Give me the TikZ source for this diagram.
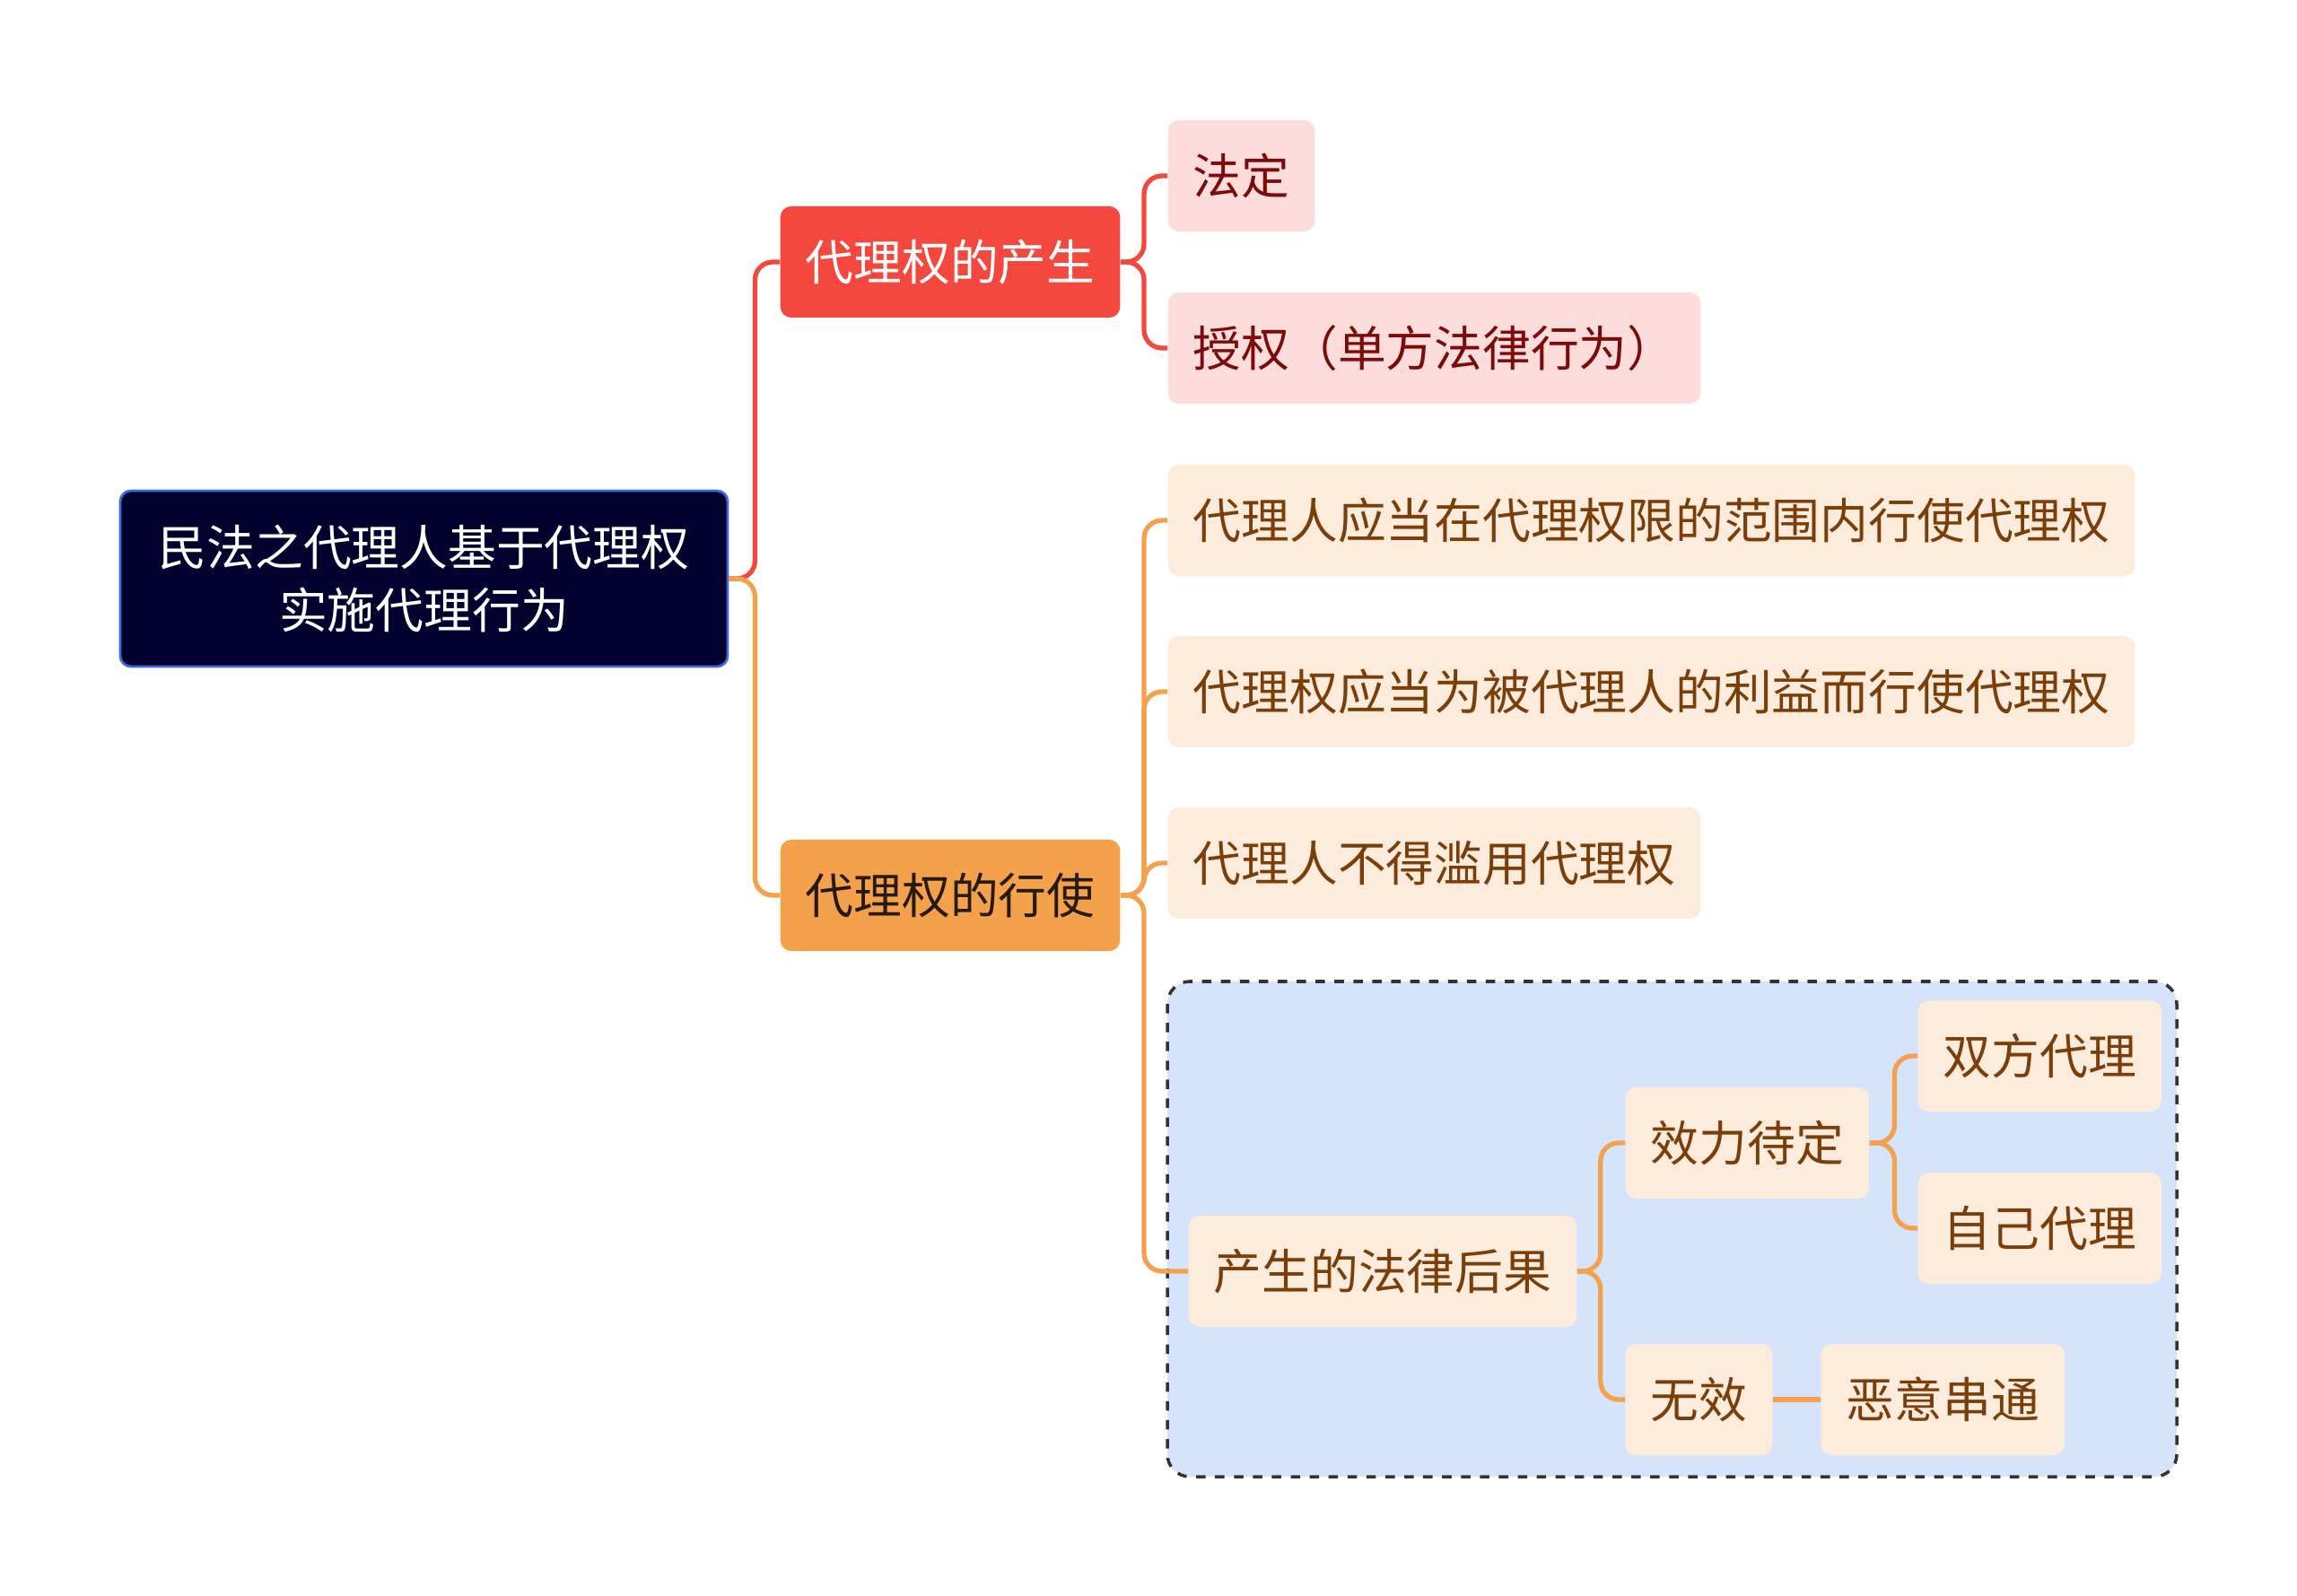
\documentclass[tikz,border=0pt]{standalone}
\usepackage{fontspec}
\setmainfont{Noto Sans CJK SC}
\usetikzlibrary{positioning}

\definecolor{rootfill}{HTML}{03022E}
\definecolor{rootline}{HTML}{3D6CD8}
\definecolor{redmain}{HTML}{F4473D}
\definecolor{redleaf}{HTML}{FDDCDC}
\definecolor{redtext}{HTML}{7B0B0B}
\definecolor{orgmain}{HTML}{F4A14C}
\definecolor{orgleaf}{HTML}{FDECDC}
\definecolor{orgtext}{HTML}{7A3E0A}
\definecolor{boxfill}{HTML}{D6E4FB}

\begin{document}
\begin{tikzpicture}[
  every node/.style={font=\fontsize{15.3pt}{20pt}\selectfont, rounded corners=0.12cm, inner xsep=0.28cm, minimum height=1.24cm},
  rootbox/.style={fill=rootfill, draw=rootline, line width=0.8pt, text=white, align=center, minimum width=6.77cm, minimum height=1.96cm},
  redtop/.style={fill=redmain, text=white, anchor=west, minimum width=3.75cm},
  orgtop/.style={fill=orgmain, text=black!80!brown, anchor=west, minimum width=3.75cm},
  redbox/.style={fill=redleaf, text=redtext, anchor=west},
  orgbox/.style={fill=orgleaf, text=orgtext, anchor=west},
  redlink/.style={draw=redmain, line width=1.5pt, rounded corners=0.2cm},
  orglink/.style={draw=orgmain, line width=1.5pt, rounded corners=0.2cm}]
  \useasboundingbox (0,0) rectangle (25.6,-17.79);
  % grouped area
  \draw[fill=boxfill, draw=black!80, dashed, line width=1pt, rounded corners=0.25cm] (13.01,-10.94) rectangle (24.26,-16.46);
  % nodes
  \node[rootbox] (root) at (4.725,-6.45) {民法之代理人基于代理权\\实施代理行为};
  \node[redtop] (gen) at (8.69,-2.92) {代理权的产生};
  \node[orgtop] (use) at (8.69,-9.98) {代理权的行使};
  \node[redbox] (fading) at (13.01,-1.96) {法定};
  \node[redbox] (grant) at (13.01,-3.88) {授权（单方法律行为）};
  \node[orgbox] (scope) at (13.01,-5.80) {代理人应当在代理权限的范围内行使代理权};
  \node[orgbox] (benefit) at (13.01,-7.71) {代理权应当为被代理人的利益而行使代理权};
  \node[orgbox] (abuse) at (13.01,-9.62) {代理人不得滥用代理权};
  \node[orgbox, minimum width=4.28cm] (result) at (13.24,-14.17) {产生的法律后果};
  \node[orgbox] (pending) at (18.11,-12.74) {效力待定};
  \node[orgbox] (both) at (21.37,-11.77) {双方代理};
  \node[orgbox] (self) at (21.37,-13.69) {自己代理};
  \node[orgbox] (void) at (18.11,-15.60) {无效};
  \node[orgbox] (collude) at (20.29,-15.60) {恶意串通};
  % links
  \draw[redlink] (root.east) -- ++(0.29,0) |- (gen.west);
  \draw[orglink] (root.east) -- ++(0.29,0) |- (use.west);
  \draw[redlink] (gen.east) -- ++(0.26,0) |- (fading.west);
  \draw[redlink] (gen.east) -- ++(0.26,0) |- (grant.west);
  \foreach \n in {scope,benefit,abuse,result}
    \draw[orglink] (use.east) -- ++(0.26,0) |- (\n.west);
  \foreach \n in {pending,void}
    \draw[orglink] (result.east) -- ++(0.26,0) |- (\n.west);
  \foreach \n in {both,self}
    \draw[orglink] (pending.east) -- ++(0.28,0) |- (\n.west);
  \draw[orglink] (void) -- (collude);
\end{tikzpicture}
\end{document}
